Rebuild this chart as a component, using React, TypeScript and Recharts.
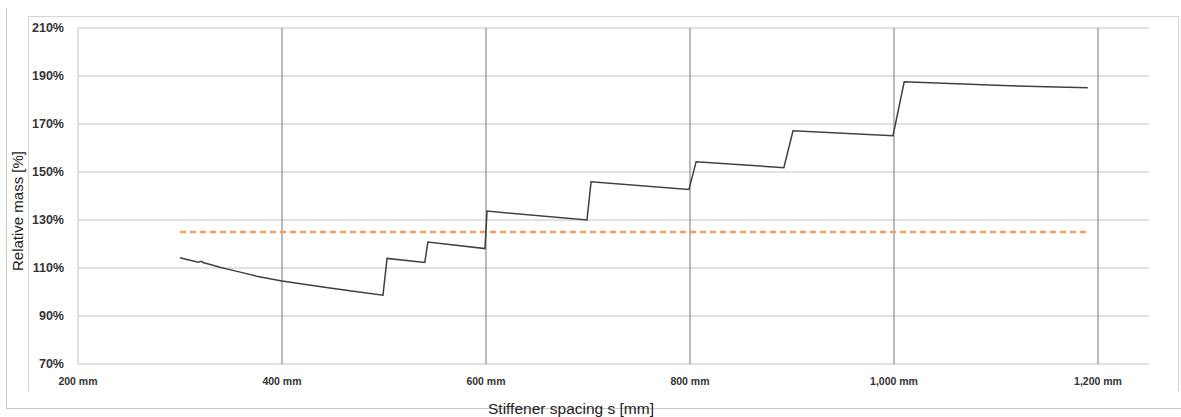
import { LineChart, Line, XAxis, YAxis, CartesianGrid, ReferenceLine } from "recharts"

// stiffener spacing [mm] and relative mass [%] along the stepped curve
const spacing = [
  300, 310, 318, 321, 323, 326, 340, 355, 375, 400, 425, 447, 470, 499,
  503, 540, 543, 599, 601, 699, 703, 799, 806, 892, 901, 999, 1010, 1100, 1190,
]
const relMass = [
  114.3, 113.2, 112.4, 112.8, 112.2, 111.9, 110.2, 108.7, 106.6, 104.6, 103.0, 101.7, 100.3, 98.7,
  114.0, 112.3, 120.8, 118.1, 133.7, 130.0, 145.9, 142.7, 154.3, 151.8, 167.2, 165.1, 187.6, 186.1, 185.1,
]

// 125 % limit, drawn dashed across the same span
const limitSpacing = [300, 1190]
const limitMass = [125, 125]

const xTicks = [200, 400, 600, 800, 1000, 1200]
const xGridValues = [400, 600, 800, 1000, 1200]
const yTicks = [70, 90, 110, 130, 150, 170, 190, 210]

const curve = spacing.map((s, i) => ({ s, m: relMass[i] }))
const limit = limitSpacing.map((s, i) => ({ s, m: limitMass[i] }))

const FONT = "'Liberation Sans', Arial, sans-serif"

export default function App() {
  return (
    <div style={{ position: "absolute", left: 0, top: 0, width: 1181, height: 417, overflow: "hidden", background: "#fff", fontFamily: FONT }}>
      {/* outer frame */}
      <div style={{ position: "absolute", left: 6, top: 8, width: 1200, height: 400, borderLeft: "1px solid #c9c9c9", borderBottom: "1px solid #c9c9c9" }} />
      {/* chart area frame */}
      <div style={{ position: "absolute", left: 28, top: 16, width: 1149, height: 374, borderLeft: "1px solid #d4d4d4", borderTop: "1px solid #d4d4d4", borderRight: "1px solid #d4d4d4" }} />

      <div style={{ position: "absolute", left: 0, top: 0 }}>
        <LineChart width={1181} height={417} margin={{ top: 28, left: 28, right: 32, bottom: 23 }}>
          <CartesianGrid vertical={false} stroke="#d9d9d9" strokeWidth={1.5} />
          {xGridValues.map((v) => (
            <ReferenceLine key={v} x={v} stroke="#a3a3a3" strokeWidth={1.5} />
          ))}
          <XAxis
            type="number"
            dataKey="s"
            domain={[200, 1250]}
            ticks={xTicks}
            allowDataOverflow
            axisLine={false}
            tickLine={false}
            tickMargin={8}
            height={30}
            tick={{ fontSize: 10.5, fontWeight: 700, fill: "#333", fontFamily: FONT }}
            tickFormatter={(v: number) => `${v.toLocaleString("en-US")} mm`}
          />
          <YAxis
            type="number"
            domain={[70, 210]}
            ticks={yTicks}
            width={50}
            axisLine={{ stroke: "#d9d9d9", strokeWidth: 1.5 }}
            tickLine={false}
            tickMargin={8}
            tick={{ fontSize: 12.5, fontWeight: 700, fill: "#333", fontFamily: FONT }}
            tickFormatter={(v: number) => `${v}%`}
          />
          <Line
            data={limit}
            dataKey="m"
            type="linear"
            stroke="#f29e6a"
            strokeWidth={2.5}
            strokeDasharray="6 4"
            dot={false}
            isAnimationActive={false}
          />
          <Line
            data={curve}
            dataKey="m"
            type="linear"
            stroke="#404040"
            strokeWidth={1.5}
            dot={false}
            isAnimationActive={false}
          />
        </LineChart>
      </div>

      <div style={{ position: "absolute", left: 17, top: 211, transform: "translate(-50%, -50%) rotate(-90deg)", whiteSpace: "nowrap", fontSize: 15, color: "#222" }}>
        Relative mass [%]
      </div>
      <div style={{ position: "absolute", left: 571, top: 409, transform: "translate(-50%, -50%)", whiteSpace: "nowrap", fontSize: 15.5, color: "#222" }}>
        Stiffener spacing s [mm]
      </div>
    </div>
  )
}
